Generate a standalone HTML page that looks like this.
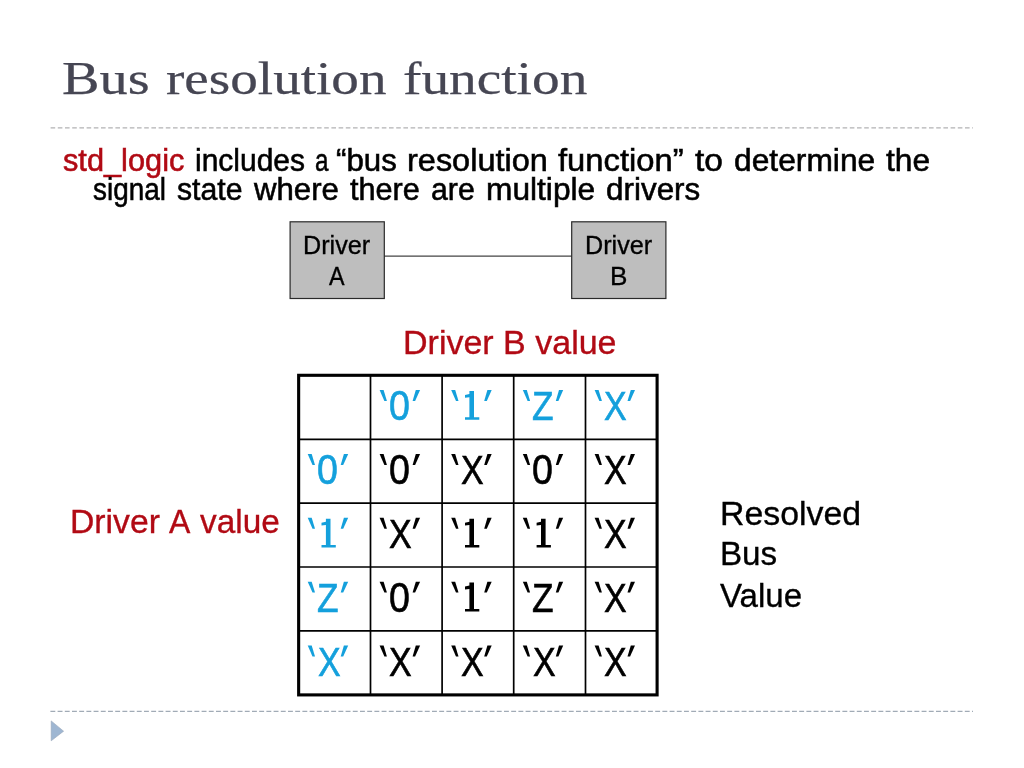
<!DOCTYPE html>
<html lang="en">
<head>
<meta charset="utf-8">
<title>Bus resolution function</title>
<style>
  html, body { margin: 0; padding: 0; background: #ffffff; }
  body { width: 1024px; height: 768px; position: relative; overflow: hidden;
         font-family: "Liberation Sans", sans-serif; color: #000; }
  svg { position: absolute; left: 0; top: 0; }
  .t { position: absolute; white-space: nowrap; line-height: 1; transform-origin: 0 0;
       font-family: "Liberation Sans", sans-serif; color: #000; }
  #txt { position: absolute; left: 0; top: 0; width: 1024px; height: 768px; will-change: transform; }
  .sf { font-family: "Liberation Serif", serif; }
  .bd { -webkit-text-stroke: 0.55px currentColor; }
  .ti { -webkit-text-stroke: 0.25px currentColor; }
  .tg { -webkit-text-stroke: 0.6px currentColor; }
  .lb { -webkit-text-stroke: 0.35px currentColor; }
</style>
</head>
<body>
<svg width="1024" height="768" viewBox="0 0 1024 768">
  <line x1="50.6" y1="127.8" x2="973" y2="127.8" stroke="#b2b2b4" stroke-width="1.2" stroke-dasharray="4.6 2.6"/>
  <line x1="50.4" y1="711.3" x2="973" y2="711.3" stroke="#8a96a4" stroke-width="1" stroke-dasharray="4.9 2.3"/>
  <polygon points="51.2,720.9 63.6,731.2 51.2,740.8" fill="#9eb6d2" stroke="#98a6b8" stroke-width="0.6"/>
  <line x1="384" y1="256.1" x2="572" y2="256.1" stroke="#444" stroke-width="1.2"/>
  <rect x="290.1" y="221.8" width="94.2" height="76.7" fill="#bebebe" stroke="#2a2a2a" stroke-width="1.2"/>
  <rect x="571.7" y="221.8" width="94.2" height="76.7" fill="#bebebe" stroke="#2a2a2a" stroke-width="1.2"/>
  <g stroke="#000" fill="none">
    <rect x="298.65" y="375.3" width="358.45" height="319.6" stroke-width="3.1"/>
    <g stroke-width="1.7">
      <line x1="370.5" y1="375" x2="370.5" y2="695"/>
      <line x1="442.1" y1="375" x2="442.1" y2="695"/>
      <line x1="513.7" y1="375" x2="513.7" y2="695"/>
      <line x1="585.5" y1="375" x2="585.5" y2="695"/>
      <line x1="298" y1="439.3" x2="657.5" y2="439.3"/>
      <line x1="298" y1="503.1" x2="657.5" y2="503.1"/>
      <line x1="298" y1="567.0" x2="657.5" y2="567.0"/>
      <line x1="298" y1="630.9" x2="657.5" y2="630.9"/>
    </g>
  </g>
  <g>
    <polygon fill="#14a0dc" points="379.6,390.0 383.6,390.0 386.9,400.9 384.4,400.9"/>
    <polygon fill="#14a0dc" points="415.8,390.0 420.1,390.0 415.1,400.9 412.6,400.9"/>
    <polygon fill="#14a0dc" points="451.2,390.0 455.2,390.0 458.5,400.9 456.0,400.9"/>
    <polygon fill="#14a0dc" points="487.4,390.0 491.7,390.0 486.8,400.9 484.2,400.9"/>
    <path fill="#14a0dc" d="M469.4 390.9 h4.6 v26.4 h5.3 v2.5 h-14.3 v-2.5 h4.4 v-20.1 l-4.4 0.6 v-2.9 l4.4 -1.0 z"/>
    <polygon fill="#14a0dc" points="522.8,390.0 526.8,390.0 530.1,400.9 527.6,400.9"/>
    <polygon fill="#14a0dc" points="559.0,390.0 563.2,390.0 558.4,400.9 555.8,400.9"/>
    <polygon fill="#14a0dc" points="594.6,390.0 598.6,390.0 601.9,400.9 599.4,400.9"/>
    <polygon fill="#14a0dc" points="630.8,390.0 635.0,390.0 630.1,400.9 627.5,400.9"/>
    <polygon fill="#14a0dc" points="307.7,454.0 311.7,454.0 315.0,464.9 312.5,464.9"/>
    <polygon fill="#14a0dc" points="343.9,454.0 348.2,454.0 343.2,464.9 340.7,464.9"/>
    <polygon fill="#000" points="379.6,454.0 383.6,454.0 386.9,464.9 384.4,464.9"/>
    <polygon fill="#000" points="415.8,454.0 420.1,454.0 415.1,464.9 412.6,464.9"/>
    <polygon fill="#000" points="451.2,454.0 455.2,454.0 458.5,464.9 456.0,464.9"/>
    <polygon fill="#000" points="487.4,454.0 491.7,454.0 486.8,464.9 484.2,464.9"/>
    <polygon fill="#000" points="522.8,454.0 526.8,454.0 530.1,464.9 527.6,464.9"/>
    <polygon fill="#000" points="559.0,454.0 563.2,454.0 558.4,464.9 555.8,464.9"/>
    <polygon fill="#000" points="594.6,454.0 598.6,454.0 601.9,464.9 599.4,464.9"/>
    <polygon fill="#000" points="630.8,454.0 635.0,454.0 630.1,464.9 627.5,464.9"/>
    <polygon fill="#14a0dc" points="307.7,517.8 311.7,517.8 315.0,528.7 312.5,528.7"/>
    <polygon fill="#14a0dc" points="343.9,517.8 348.2,517.8 343.2,528.7 340.7,528.7"/>
    <path fill="#14a0dc" d="M325.9 518.7 h4.6 v26.4 h5.3 v2.5 h-14.3 v-2.5 h4.4 v-20.1 l-4.4 0.6 v-2.9 l4.4 -1.0 z"/>
    <polygon fill="#000" points="379.6,517.8 383.6,517.8 386.9,528.7 384.4,528.7"/>
    <polygon fill="#000" points="415.8,517.8 420.1,517.8 415.1,528.7 412.6,528.7"/>
    <polygon fill="#000" points="451.2,517.8 455.2,517.8 458.5,528.7 456.0,528.7"/>
    <polygon fill="#000" points="487.4,517.8 491.7,517.8 486.8,528.7 484.2,528.7"/>
    <path fill="#000" d="M469.4 518.7 h4.6 v26.4 h5.3 v2.5 h-14.3 v-2.5 h4.4 v-20.1 l-4.4 0.6 v-2.9 l4.4 -1.0 z"/>
    <polygon fill="#000" points="522.8,517.8 526.8,517.8 530.1,528.7 527.6,528.7"/>
    <polygon fill="#000" points="559.0,517.8 563.2,517.8 558.4,528.7 555.8,528.7"/>
    <path fill="#000" d="M541.0 518.7 h4.6 v26.4 h5.3 v2.5 h-14.3 v-2.5 h4.4 v-20.1 l-4.4 0.6 v-2.9 l4.4 -1.0 z"/>
    <polygon fill="#000" points="594.6,517.8 598.6,517.8 601.9,528.7 599.4,528.7"/>
    <polygon fill="#000" points="630.8,517.8 635.0,517.8 630.1,528.7 627.5,528.7"/>
    <polygon fill="#14a0dc" points="307.7,581.7 311.7,581.7 315.0,592.6 312.5,592.6"/>
    <polygon fill="#14a0dc" points="343.9,581.7 348.2,581.7 343.2,592.6 340.7,592.6"/>
    <polygon fill="#000" points="379.6,581.7 383.6,581.7 386.9,592.6 384.4,592.6"/>
    <polygon fill="#000" points="415.8,581.7 420.1,581.7 415.1,592.6 412.6,592.6"/>
    <polygon fill="#000" points="451.2,581.7 455.2,581.7 458.5,592.6 456.0,592.6"/>
    <polygon fill="#000" points="487.4,581.7 491.7,581.7 486.8,592.6 484.2,592.6"/>
    <path fill="#000" d="M469.4 582.6 h4.6 v26.4 h5.3 v2.5 h-14.3 v-2.5 h4.4 v-20.1 l-4.4 0.6 v-2.9 l4.4 -1.0 z"/>
    <polygon fill="#000" points="522.8,581.7 526.8,581.7 530.1,592.6 527.6,592.6"/>
    <polygon fill="#000" points="559.0,581.7 563.2,581.7 558.4,592.6 555.8,592.6"/>
    <polygon fill="#000" points="594.6,581.7 598.6,581.7 601.9,592.6 599.4,592.6"/>
    <polygon fill="#000" points="630.8,581.7 635.0,581.7 630.1,592.6 627.5,592.6"/>
    <polygon fill="#14a0dc" points="307.7,645.6 311.7,645.6 315.0,656.5 312.5,656.5"/>
    <polygon fill="#14a0dc" points="343.9,645.6 348.2,645.6 343.2,656.5 340.7,656.5"/>
    <polygon fill="#000" points="379.6,645.6 383.6,645.6 386.9,656.5 384.4,656.5"/>
    <polygon fill="#000" points="415.8,645.6 420.1,645.6 415.1,656.5 412.6,656.5"/>
    <polygon fill="#000" points="451.2,645.6 455.2,645.6 458.5,656.5 456.0,656.5"/>
    <polygon fill="#000" points="487.4,645.6 491.7,645.6 486.8,656.5 484.2,656.5"/>
    <polygon fill="#000" points="522.8,645.6 526.8,645.6 530.1,656.5 527.6,656.5"/>
    <polygon fill="#000" points="559.0,645.6 563.2,645.6 558.4,656.5 555.8,656.5"/>
    <polygon fill="#000" points="594.6,645.6 598.6,645.6 601.9,656.5 599.4,656.5"/>
    <polygon fill="#000" points="630.8,645.6 635.0,645.6 630.1,656.5 627.5,656.5"/>
  </g>
</svg>
<div id="txt">
<span class="t sf ti" style="left:61.99px;top:56.30px;font-size:46.5px;color:#464653;transform:scaleX(1.2095);">Bus</span>
<span class="t sf ti" style="left:165.70px;top:56.30px;font-size:46.5px;color:#464653;transform:scaleX(1.1856);">resolution</span>
<span class="t sf ti" style="left:402.81px;top:56.30px;font-size:46.5px;color:#464653;transform:scaleX(1.1892);">function</span>
<span class="t bd" style="left:62.80px;top:145.25px;font-size:30.5px;color:#b10a14;transform:scaleX(1.0080);">std_logic</span>
<span class="t bd" style="left:194.73px;top:145.25px;font-size:30.5px;transform:scaleX(0.9831);">includes</span>
<span class="t bd" style="left:315.21px;top:145.25px;font-size:30.5px;transform:scaleX(0.7934);">a</span>
<span class="t bd" style="left:335.68px;top:145.25px;font-size:30.5px;transform:scaleX(1.0242);">&ldquo;bus</span>
<span class="t bd" style="left:406.87px;top:145.25px;font-size:30.5px;transform:scaleX(1.0648);">resolution</span>
<span class="t bd" style="left:558.20px;top:145.25px;font-size:30.5px;transform:scaleX(1.0734);">function&rdquo;</span>
<span class="t bd" style="left:695.20px;top:145.25px;font-size:30.5px;transform:scaleX(1.0991);">to</span>
<span class="t bd" style="left:733.66px;top:145.25px;font-size:30.5px;transform:scaleX(1.0413);">determine</span>
<span class="t bd" style="left:885.60px;top:145.25px;font-size:30.5px;transform:scaleX(1.0400);">the</span>
<span class="t bd" style="left:93.10px;top:173.60px;font-size:30.5px;transform:scaleX(0.9150);">signal</span>
<span class="t bd" style="left:177.00px;top:173.60px;font-size:30.5px;transform:scaleX(0.9898);">state</span>
<span class="t bd" style="left:254.22px;top:173.60px;font-size:30.5px;transform:scaleX(1.0227);">where</span>
<span class="t bd" style="left:349.90px;top:173.60px;font-size:30.5px;transform:scaleX(1.0048);">there</span>
<span class="t bd" style="left:431.41px;top:173.60px;font-size:30.5px;transform:scaleX(0.9921);">are</span>
<span class="t bd" style="left:485.82px;top:173.60px;font-size:30.5px;transform:scaleX(1.0387);">multiple</span>
<span class="t bd" style="left:605.57px;top:173.60px;font-size:30.5px;transform:scaleX(1.0303);">drivers</span>
<span class="t lb" style="left:303.03px;top:233.25px;font-size:25.6px;transform:scaleX(0.9831);">Driver</span>
<span class="t lb" style="left:328.80px;top:263.85px;font-size:25.6px;transform:scaleX(0.9107);">A</span>
<span class="t lb" style="left:584.63px;top:233.25px;font-size:25.6px;transform:scaleX(0.9831);">Driver</span>
<span class="t lb" style="left:609.76px;top:263.85px;font-size:25.6px;transform:scaleX(1.0209);">B</span>
<span class="t lb" style="left:403.00px;top:324.90px;font-size:34.1px;color:#b10a14;transform:scaleX(0.9978);">Driver B value</span>
<span class="t lb" style="left:70.42px;top:504.20px;font-size:34.1px;color:#b10a14;transform:scaleX(0.9895);">Driver</span>
<span class="t lb" style="left:169.40px;top:504.20px;font-size:34.1px;color:#b10a14;transform:scaleX(0.9389);">A</span>
<span class="t lb" style="left:200.20px;top:504.20px;font-size:34.1px;color:#b10a14;transform:scaleX(0.9787);">value</span>
<span class="t lb" style="left:719.51px;top:495.70px;font-size:34.1px;transform:scaleX(0.9933);">Resolved</span>
<span class="t lb" style="left:719.55px;top:536.30px;font-size:34.1px;transform:scaleX(0.9732);">Bus</span>
<span class="t lb" style="left:720.20px;top:577.50px;font-size:34.1px;transform:scaleX(0.9703);">Value</span>
<span class="t tg" style="left:389.16px;top:385.36px;font-size:39.8px;color:#14a0dc;transform:scale(0.9446,1.0650);">0</span>
<span class="t tg" style="left:532.21px;top:387.10px;font-size:39.8px;color:#14a0dc;transform:scaleX(0.8868);">Z</span>
<span class="t tg" style="left:604.40px;top:387.10px;font-size:39.8px;color:#14a0dc;transform:scaleX(0.8538);">X</span>
<span class="t tg" style="left:317.26px;top:449.36px;font-size:39.8px;color:#14a0dc;transform:scale(0.9446,1.0650);">0</span>
<span class="t tg" style="left:389.16px;top:449.36px;font-size:39.8px;transform:scale(0.9446,1.0650);">0</span>
<span class="t tg" style="left:461.00px;top:451.10px;font-size:39.8px;transform:scaleX(0.8538);">X</span>
<span class="t tg" style="left:532.36px;top:449.36px;font-size:39.8px;transform:scale(0.9446,1.0650);">0</span>
<span class="t tg" style="left:604.40px;top:451.10px;font-size:39.8px;transform:scaleX(0.8538);">X</span>
<span class="t tg" style="left:389.40px;top:514.90px;font-size:39.8px;transform:scaleX(0.8538);">X</span>
<span class="t tg" style="left:604.40px;top:514.90px;font-size:39.8px;transform:scaleX(0.8538);">X</span>
<span class="t tg" style="left:317.11px;top:578.80px;font-size:39.8px;color:#14a0dc;transform:scaleX(0.8868);">Z</span>
<span class="t tg" style="left:389.16px;top:577.05px;font-size:39.8px;transform:scale(0.9446,1.0650);">0</span>
<span class="t tg" style="left:532.21px;top:578.80px;font-size:39.8px;transform:scaleX(0.8868);">Z</span>
<span class="t tg" style="left:604.40px;top:578.80px;font-size:39.8px;transform:scaleX(0.8538);">X</span>
<span class="t tg" style="left:317.50px;top:642.70px;font-size:39.8px;color:#14a0dc;transform:scaleX(0.8538);">X</span>
<span class="t tg" style="left:389.40px;top:642.70px;font-size:39.8px;transform:scaleX(0.8538);">X</span>
<span class="t tg" style="left:461.00px;top:642.70px;font-size:39.8px;transform:scaleX(0.8538);">X</span>
<span class="t tg" style="left:532.60px;top:642.70px;font-size:39.8px;transform:scaleX(0.8538);">X</span>
<span class="t tg" style="left:604.40px;top:642.70px;font-size:39.8px;transform:scaleX(0.8538);">X</span>
</div>
</body>
</html>
